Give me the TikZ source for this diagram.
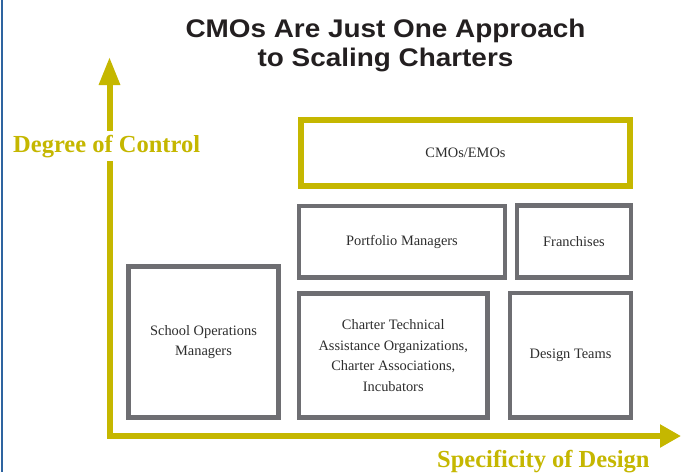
\documentclass[tikz,border=0pt]{standalone}
\usepackage{fontspec}
\setmainfont{Liberation Serif}
\newfontfamily\titlefont{Liberation Sans}
\usepackage{graphicx}
\usetikzlibrary{arrows.meta}
\definecolor{axisyellow}{RGB}{197,183,0}
\definecolor{boxgray}{RGB}{110,110,114}
\definecolor{txtgray}{RGB}{45,45,45}
\definecolor{titlegray}{RGB}{35,31,32}
\definecolor{edgeblue}{RGB}{46,100,160}
\begin{document}
\begin{tikzpicture}[x=1pt,y=-1pt,
  graybox/.style={draw=boxgray, line width=4.5pt, fill=white, outer sep=0pt, inner sep=2pt,
    align=center, text=txtgray, font=\fontsize{14.4}{20.5}\selectfont},
  yellowbox/.style={graybox, draw=axisyellow, line width=6.5pt},
  axisline/.style={draw=axisyellow, line width=6pt, line join=miter},
  axislabel/.style={text=axisyellow, font=\fontsize{24.5}{28}\selectfont\bfseries,
    fill=white, inner xsep=0pt, inner ysep=4pt},
  titlestyle/.style={text=titlegray, font=\fontsize{25.5}{29}\selectfont\titlefont\bfseries,
    inner sep=0pt, anchor=base}
]
\fill[white] (0,0) rectangle (681,472);
\useasboundingbox (0,0) rectangle (681,472);
\draw[edgeblue, line width=1.2pt] (2,0) -- (2,472);

% title
\node[titlestyle] (title1) at (385.5,37.5) {\scalebox{1.094}[1]{CMOs Are Just One Approach}};
\node[titlestyle] (title2) at (385.5,66.5) {\scalebox{1.094}[1]{to Scaling Charters}};

% axes
\coordinate (origin) at (109.5,436);
\coordinate (ytip) at (109.5,57);
\coordinate (xtip) at (681,436);
\draw[axisline, {Triangle[length=28pt,width=20pt]}-{Triangle[length=21pt,width=22pt]}]
  (ytip) -- (origin) -- (xtip);
\node[axislabel, anchor=base west] (ylab) at (13,152) {Degree of Control};
\node[axislabel, anchor=base west] (xlab) at (437,467) {Specificity of Design};

% boxes
\node[yellowbox, minimum width=329pt, minimum height=66pt] (cmo) at (465.5,153) {CMOs/EMOs};
\node[graybox, minimum width=206pt, minimum height=71.5pt] (port) at (402,241.75) {Portfolio Managers};
\node[graybox, minimum width=114pt, minimum height=72pt] (fran) at (574,241.5) {Franchises};
\node[graybox, minimum width=150pt, minimum height=151pt] (sops) at (203.5,342) {School Operations\\Managers};
\node[graybox, minimum width=188.5pt, minimum height=124pt] (cta) at (393.25,355.5)
  {Charter Technical\\Assistance Organizations,\\Charter Associations,\\Incubators};
\node[graybox, minimum width=121pt, minimum height=124.5pt] (dt) at (570.5,355.25) {Design Teams};
\end{tikzpicture}
\end{document}
